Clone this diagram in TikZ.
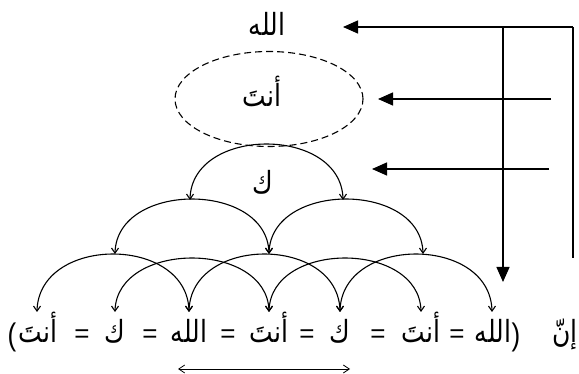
\documentclass[tikz,border=0pt]{standalone}
\usepackage{fontspec}
\usepackage{graphicx}
\usetikzlibrary{arrows.meta,bending,shapes.geometric}
\TeXXeTstate=1
\setmainfont{DejaVu Sans}
\newfontfamily\arabicfont[Script=Arabic]{DejaVu Sans}
\newfontfamily\latinfont{Liberation Sans}
% Arabic words are set a little taller than the font's natural shape
\newcommand{\tallword}[1]{\scalebox{1}[1.22]{\beginR #1\endR}}
\newcommand{\tallsign}[1]{\scalebox{1}[1.2]{#1}}

\begin{document}
\begin{tikzpicture}[x=1pt,y=-1pt,
  word/.style={font=\arabicfont\fontsize{25}{30}\selectfont, inner sep=0pt, anchor=base},
  sign/.style={font=\latinfont\fontsize{26}{30}\selectfont, inner sep=0pt, anchor=base},
  link/.style={line width=1.1pt,
    {Straight Barb[length=5pt,width=7pt]}-{Straight Barb[length=5pt,width=7pt]}},
  hop/.style={to path={.. controls +(0,{-1.333*#1}) and +(0,{-1.333*#1}) .. (\tikztotarget)}},
  pointer/.style={line width=1.3pt, -{Triangle[length=15pt,width=13pt]}},
  rail/.style={line width=1.3pt},
  span/.style={line width=0.8pt,
    {Straight Barb[length=6pt,width=8pt]}-{Straight Barb[length=6pt,width=8pt]}}]
\useasboundingbox (0,0) rectangle (579,374);

% upper column of words
\node[word] (god) at (267,36) {\tallword{الله}};
\node[word] (you) at (262,107) {\tallword{أنتَ}};
\node[word] (kaf) at (263,194) {\tallword{ك}};
\node[draw, dashed, dash pattern=on 7pt off 4pt, line width=1.1pt,
      ellipse, minimum width=188pt, minimum height=95pt] (ring) at (269,99) {};

% the bottom sentence, word by word from right to left
\node[word] (inna) at (565,343) {\tallword{إنّ}};
\node[sign] (close) at (516,345) {\tallsign{)}};
\node[word] (b7) at (493,343) {\tallword{الله}};
\node[sign] (e6) at (457,343) {=};
\node[word] (b6) at (421,343) {\tallword{أنتَ}};
\node[sign] (e5) at (378,343) {=};
\node[word] (b5) at (340,343) {\tallword{ك}};
\node[sign] (e4) at (307,343) {=};
\node[word] (b4) at (269,343) {\tallword{أنتَ}};
\node[sign] (e3) at (228,343) {=};
\node[word] (b3) at (189,343) {\tallword{الله}};
\node[sign] (e2) at (150,343) {=};
\node[word] (b2) at (115,343) {\tallword{ك}};
\node[sign] (e1) at (82,343) {=};
\node[word] (b1) at (38,343) {\tallword{أنتَ}};
\node[sign] (open) at (12,345) {\tallsign{(}};

% arc end points
\coordinate (a1) at (190,200);
\coordinate (a2) at (343,200);
\coordinate (m1) at (115,254);
\coordinate (m2) at (269,254);
\coordinate (m3) at (423,254);
\coordinate (t1) at (37,312);
\coordinate (t2) at (115,312);
\coordinate (t3) at (189,312);
\coordinate (t4) at (269,312);
\coordinate (t5) at (340,312);
\coordinate (t6) at (421,312);
\coordinate (t7) at (492,312);

% arcs
\draw[link] (a1) to[hop=56] (a2);
\draw[link] (m1) to[hop=55] (m2);
\draw[link] (m2) to[hop=55] (m3);
\draw[link] (t1) to[hop=58] (t3);
\draw[link] (t2) to[hop=54] (t4);
\draw[link] (t3) to[hop=58] (t5);
\draw[link] (t4) to[hop=54] (t6);
\draw[link] (t5) to[hop=58] (t7);

% pointers on the right
\coordinate (corner) at (573,27);
\coordinate (foot) at (573,258);
\coordinate (godtip) at (343,27);
\coordinate (branch) at (503,27);
\coordinate (down) at (503,282);
\coordinate (youfrom) at (551,99);
\coordinate (youtip) at (378,99);
\coordinate (kaffrom) at (549,169);
\coordinate (kaftip) at (372,169);
\draw[rail] (foot) -- (corner);
\draw[pointer] (corner) -- (godtip);
\draw[pointer] (branch) -- (down);
\draw[pointer] (youfrom) -- (youtip);
\draw[pointer] (kaffrom) -- (kaftip);

% span under the middle of the sentence
\coordinate (sl) at (178,369);
\coordinate (sr) at (350,369);
\draw[span] (sl) -- (sr);
\end{tikzpicture}
\end{document}
